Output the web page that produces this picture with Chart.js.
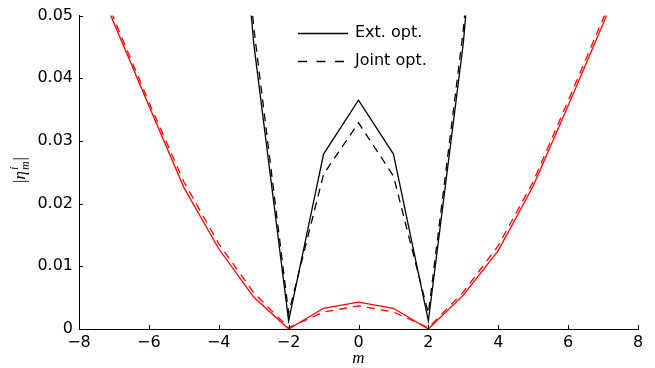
<!DOCTYPE html>
<html>
<head>
<meta charset="utf-8">
<script src="https://cdn.jsdelivr.net/npm/chart.js@4"></script>
<style>
    html, body { margin: 0; padding: 0; background: #fff; }
    #wrap { width: 655px; height: 368px; }
</style>
</head>
<body>
<div id="wrap"><canvas id="chart"></canvas></div>
<script>
// ---------- DATA ----------
const mValues = [-8, -7, -6, -5, -4, -3, -2, -1, 0, 1, 2, 3, 4, 5, 6, 7, 8];
const extBlack = [null, null, null, null, 0.11, 0.0456, 0.0013, 0.0279, 0.0365, 0.0279, 0.0013, 0.0456, 0.11, null, null, null, null];
const jointBlack = [null, null, null, null, 0.11, 0.0482, 0.0025, 0.0247, 0.0329, 0.0244, 0.0025, 0.0477, 0.11, null, null, null, null];
const extRed = [0.062, 0.0488, 0.0356, 0.0226, 0.0128, 0.0051, 0, 0.0033, 0.0043, 0.0033, 0, 0.0054, 0.0125, 0.0228, 0.0356, 0.0487, 0.062];
const jointRed = [0.063, 0.0495, 0.0362, 0.0235, 0.0136, 0.0058, 0.0002, 0.0027, 0.0037, 0.0027, 0.0002, 0.0059, 0.0133, 0.0235, 0.0364, 0.0495, 0.063];
const xTicks = [-8, -6, -4, -2, 0, 2, 4, 6, 8];
const yTicks = [0, 0.01, 0.02, 0.03, 0.04, 0.05];
const legendLabels = ["Ext. opt.", "Joint opt."];

const toPoints = arr => mValues.map((m, i) => ({ x: m, y: arr[i] }));
const DASH = [8, 6];
const FONT = "'DejaVu Sans', sans-serif";

function series(values, color, dashed) {
    return {
        data: toPoints(values),
        borderColor: color,
        borderWidth: 1.3,
        borderDash: dashed ? DASH : [],
        pointRadius: 0,
        fill: false,
        tension: 0,
        spanGaps: false
    };
}

// ---------- DECORATIONS: inward ticks, axis titles, legend ----------
const decorations = {
    id: "decorations",
    afterDraw(chart) {
        const ctx = chart.ctx;
        const xs = chart.scales.x, ys = chart.scales.y;
        const area = chart.chartArea;
        ctx.save();
        ctx.strokeStyle = "#000";
        ctx.lineWidth = 1;
        ctx.beginPath();
        xTicks.forEach(v => {
            const px = Math.round(xs.getPixelForValue(v)) + 0.5;
            ctx.moveTo(px, area.bottom);
            ctx.lineTo(px, area.bottom - 4);
        });
        yTicks.forEach(v => {
            const py = Math.round(ys.getPixelForValue(v)) + 0.5;
            ctx.moveTo(area.left, py);
            ctx.lineTo(area.left + 4, py);
        });
        ctx.stroke();

        // x title
        ctx.fillStyle = "#000";
        ctx.font = "italic 17px 'Liberation Serif', serif";
        ctx.textAlign = "center";
        ctx.textBaseline = "middle";
        ctx.fillText("m", xs.getPixelForValue(0), 359);

        // y title |eta^i_m|
        ctx.translate(20, 170);
        ctx.rotate(-Math.PI / 2);
        ctx.textAlign = "left";
        ctx.textBaseline = "alphabetic";
        const big = "17px 'Liberation Serif', serif";
        const bigI = "italic 17px 'Liberation Serif', serif";
        const small = "italic 12px 'Liberation Serif', serif";
        ctx.font = big; const wBar = ctx.measureText("|").width;
        ctx.font = bigI; const wEta = ctx.measureText("η").width;
        ctx.font = small; const wSub = Math.max(ctx.measureText("i").width, ctx.measureText("m").width);
        let x = -(wBar * 2 + wEta + wSub + 2) / 2;
        const base = 5;
        ctx.font = big; ctx.fillText("|", x, base); x += wBar;
        ctx.font = bigI; ctx.fillText("η", x, base); x += wEta + 1;
        ctx.font = small;
        ctx.fillText("i", x, base - 7);
        ctx.fillText("m", x, base + 4);
        x += wSub + 1;
        ctx.font = big; ctx.fillText("|", x, base);
        ctx.restore();

        // legend
        ctx.save();
        ctx.strokeStyle = "#000";
        ctx.lineWidth = 1.3;
        ctx.beginPath();
        ctx.moveTo(298, 33.5); ctx.lineTo(348, 33.5);
        ctx.stroke();
        ctx.setLineDash([9, 9.5]);
        ctx.beginPath();
        ctx.moveTo(298, 61.5); ctx.lineTo(348, 61.5);
        ctx.stroke();
        ctx.setLineDash([]);
        ctx.fillStyle = "#000";
        ctx.font = "16px " + FONT;
        ctx.textAlign = "left";
        ctx.textBaseline = "middle";
        ctx.fillText(legendLabels[0], 355, 33);
        ctx.fillText(legendLabels[1], 355, 61);
        ctx.restore();
    }
};

new Chart(document.getElementById("chart"), {
    type: "line",
    data: {
        datasets: [
            series(extBlack, "#000", false),
            series(jointBlack, "#000", true),
            series(extRed, "#ff0000", false),
            series(jointRed, "#ff0000", true)
        ]
    },
    options: {
        responsive: true,
        maintainAspectRatio: false,
        animation: false,
        events: [],
        layout: { padding: { top: 14, right: 17, left: 0, bottom: 0 } },
        plugins: { legend: { display: false }, tooltip: { enabled: false } },
        scales: {
            x: {
                type: "linear",
                min: -8,
                max: 8,
                afterBuildTicks: s => { s.ticks = xTicks.map(v => ({ value: v })); },
                afterFit: s => { s.height = 39; },
                grid: { display: true, drawOnChartArea: false, drawTicks: false },
                border: { display: true, color: "#000", width: 1 },
                ticks: {
                    padding: 4,
                    color: "#000",
                    font: { family: FONT, size: 16 },
                    callback: v => String(v).replace("-", "\u2212")
                }
            },
            y: {
                type: "linear",
                min: 0,
                max: 0.05,
                afterBuildTicks: s => { s.ticks = yTicks.map(v => ({ value: v })); },
                afterFit: s => { s.width = 79; },
                grid: { display: true, drawOnChartArea: false, drawTicks: false },
                border: { display: true, color: "#000", width: 1 },
                ticks: {
                    padding: 6,
                    color: "#000",
                    font: { family: FONT, size: 16 },
                    callback: v => (v === 0 ? "0" : v.toFixed(2))
                }
            }
        }
    },
    plugins: [decorations]
});
</script>
</body>
</html>
